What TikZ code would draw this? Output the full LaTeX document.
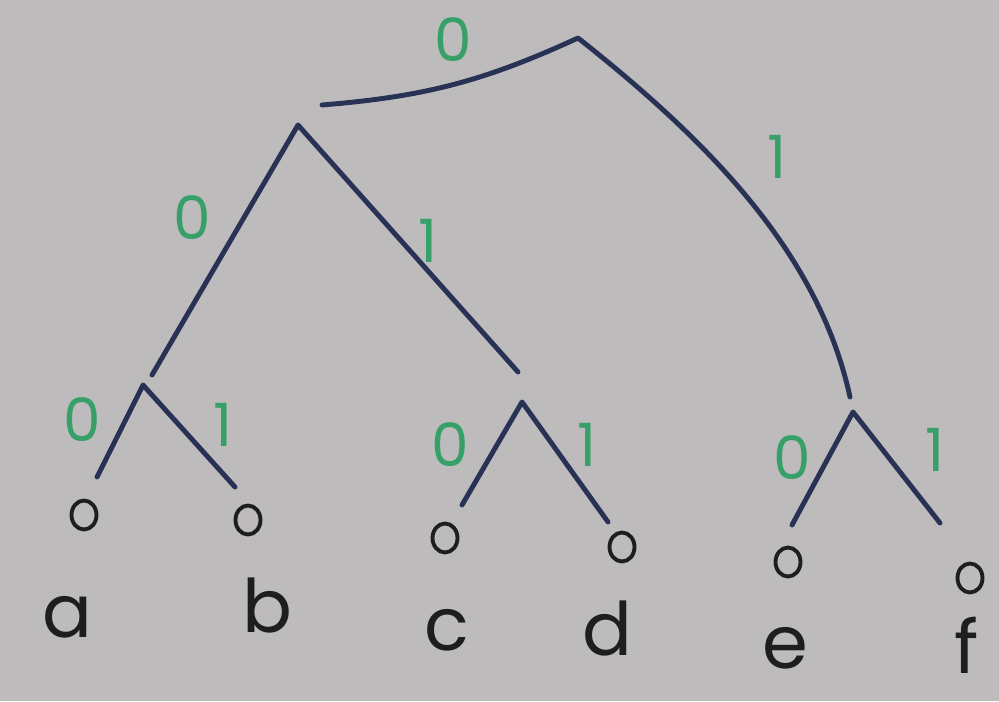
\documentclass[tikz,border=0pt]{standalone}
\usepackage{fontspec}
\setmainfont{Poppins}
\usetikzlibrary{shapes.geometric}
\definecolor{papel}{RGB}{190,187,189}
\definecolor{tinta}{RGB}{40,50,85}
\definecolor{verde}{RGB}{55,160,105}
\definecolor{lapiz}{RGB}{30,30,32}
\tikzset{
  rama/.style={draw=tinta, line width=1.4pt, line cap=round, line join=round},
  bit/.style={text=verde, font=\fontsize{17}{18}\selectfont, inner sep=0pt},
  hoja/.style={ellipse, draw=lapiz, line width=1.1pt, minimum width=0.25cm, minimum height=0.29cm, inner sep=0pt},
  letra/.style={text=lapiz, font=\fontsize{21}{23}\selectfont, inner sep=0pt},
}

\begin{document}
\begin{tikzpicture}
  \fill[papel] (0,0) rectangle (9.99,7.01);
  \useasboundingbox (0,0) rectangle (9.99,7.01);
  % nudos del arbol
  \coordinate (raiz) at (5.78,6.63);
  \coordinate (raiz0) at (3.22,5.96);
  \coordinate (n0) at (2.98,5.76);
  \coordinate (n1top) at (8.50,3.04);
  \coordinate (n00top) at (1.52,3.26);
  \coordinate (n01top) at (5.18,3.29);
  \coordinate (n00) at (1.43,3.16);
  \coordinate (n01) at (5.22,2.99);
  \coordinate (n1) at (8.53,2.89);
  % extremos de las ramas
  \coordinate (fa) at (0.97,2.24);
  \coordinate (fb) at (2.35,2.14);
  \coordinate (fc) at (4.62,1.96);
  \coordinate (fd) at (6.08,1.79);
  \coordinate (fe) at (7.92,1.76);
  \coordinate (ff) at (9.40,1.78);
  % ramas
  \draw[rama] (raiz0) to[bend right=10] (raiz) .. controls (7.20,5.51) and (8.20,4.41) .. (n1top);
  \draw[rama] (n00top) -- (n0) -- (n01top);
  \draw[rama] (fa) -- (n00) -- (fb);
  \draw[rama] (fc) -- (n01) -- (fd);
  \draw[rama] (fe) -- (n1) -- (ff);
  % bits
  \node[bit] (b0) at (4.53,6.61) {0};
  \node[bit] (b1) at (7.77,5.44) {1};
  \node[bit] (b00) at (1.92,4.83) {0};
  \node[bit] (b01) at (4.28,4.60) {1};
  \node[bit] (b000) at (0.82,2.81) {0};
  \node[bit] (b001) at (2.23,2.76) {1};
  \node[bit] (b010) at (4.50,2.56) {0};
  \node[bit] (b011) at (5.87,2.56) {1};
  \node[bit] (b10) at (7.92,2.43) {0};
  \node[bit] (b11) at (9.35,2.51) {1};
  % hojas
  \node[hoja] (ha) at (0.84,1.86) {};
  \node[hoja] (hb) at (2.48,1.81) {};
  \node[hoja] (hc) at (4.45,1.63) {};
  \node[hoja] (hd) at (6.22,1.54) {};
  \node[hoja] (he) at (7.88,1.39) {};
  \node[hoja] (hf) at (9.70,1.23) {};
  \node[letra] (la) at (0.67,0.84) {a};
  \node[letra] (lb) at (2.67,0.95) {b};
  \node[letra] (lc) at (4.47,0.71) {c};
  \node[letra] (ld) at (6.07,0.72) {d};
  \node[letra] (le) at (7.85,0.53) {e};
  \node[letra] (lf) at (9.67,0.56) {f};
\end{tikzpicture}
\end{document}
